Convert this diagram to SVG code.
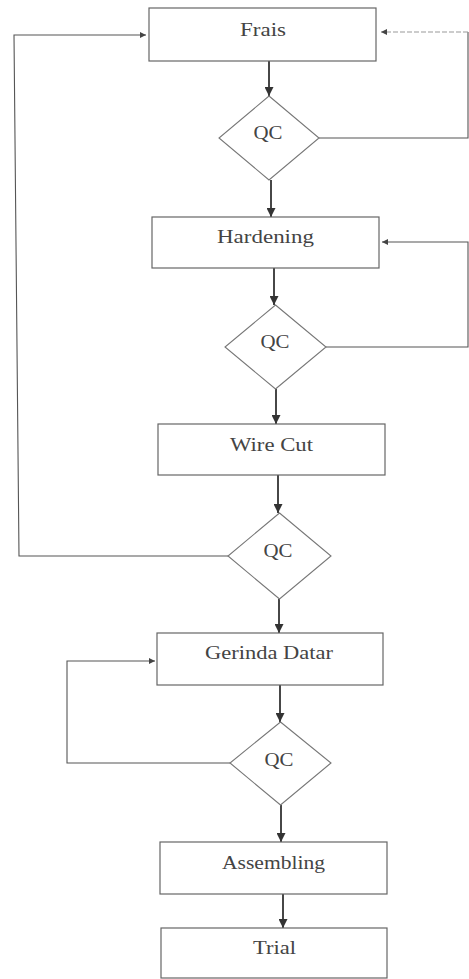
<svg xmlns="http://www.w3.org/2000/svg" width="469" height="979" viewBox="0 0 469 979">
<defs>
<style>
.box{fill:#fff;stroke:#666;stroke-width:1.2}
.dia{fill:#fff;stroke:#777;stroke-width:1.1}
.lbl{font-family:"Liberation Serif","Times New Roman",serif;font-size:18px;fill:#444;text-anchor:middle}
.flow{fill:none;stroke:#333;stroke-width:1.8}
.fb{fill:none;stroke:#555;stroke-width:1.1}
.fbl{fill:none;stroke:#999;stroke-width:1;stroke-dasharray:5 2}
</style>
<marker id="ah" viewBox="0 0 10 10" refX="10" refY="5" markerWidth="12" markerHeight="9" markerUnits="userSpaceOnUse" orient="auto">
<path d="M0,0 L10,5 L0,10 Z" fill="#333"/>
</marker>
<marker id="ahs" viewBox="0 0 10 10" refX="10" refY="5" markerWidth="9" markerHeight="6" markerUnits="userSpaceOnUse" orient="auto">
<path d="M0,0 L10,5 L0,10 Z" fill="#444"/>
</marker>
</defs>
<rect width="469" height="979" fill="#fff"/>
<g id="connectors">
<line class="flow" x1="269" y1="61" x2="269" y2="96" marker-end="url(#ah)"/>
<line class="flow" x1="271" y1="180" x2="271" y2="217" marker-end="url(#ah)"/>
<line class="flow" x1="274" y1="268" x2="274" y2="305" marker-end="url(#ah)"/>
<line class="flow" x1="276" y1="389" x2="276" y2="424" marker-end="url(#ah)"/>
<line class="flow" x1="278" y1="475" x2="278" y2="513" marker-end="url(#ah)"/>
<line class="flow" x1="279" y1="599" x2="279" y2="633" marker-end="url(#ah)"/>
<line class="flow" x1="280" y1="685" x2="280" y2="722" marker-end="url(#ah)"/>
<line class="flow" x1="281" y1="805" x2="281" y2="842" marker-end="url(#ah)"/>
<line class="flow" x1="283" y1="894" x2="283" y2="928" marker-end="url(#ah)"/>
<polyline class="fb" points="319,138 468,138 468,32"/>
<polyline class="fbl" points="468,32 381,32" marker-end="url(#ahs)"/>
<polyline class="fb" points="326,347 468,347 468,242 382,242" marker-end="url(#ahs)"/>
<polyline class="fb" points="228,556 19,556 14,35 146,35" marker-end="url(#ahs)"/>
<polyline class="fb" points="230,763 67,763 67,661 155,661" marker-end="url(#ahs)"/>
</g>
<g id="frais">
<rect class="box" x="149" y="8" width="227" height="53"/>
<text class="lbl" x="263" y="36" textLength="46" lengthAdjust="spacingAndGlyphs">Frais</text>
</g>
<g id="qc1">
<polygon class="dia" points="269,96 319,138 269,180 219,138"/>
<text class="lbl" x="268" y="139" textLength="29" lengthAdjust="spacingAndGlyphs">QC</text>
</g>
<g id="hardening">
<rect class="box" x="152" y="217" width="227" height="51"/>
<text class="lbl" x="265.5" y="243" textLength="97" lengthAdjust="spacingAndGlyphs">Hardening</text>
</g>
<g id="qc2">
<polygon class="dia" points="275.5,305 326,347 275.5,389 225,347"/>
<text class="lbl" x="275" y="348" textLength="29" lengthAdjust="spacingAndGlyphs">QC</text>
</g>
<g id="wirecut">
<rect class="box" x="158" y="424" width="227" height="51"/>
<text class="lbl" x="271.5" y="451" textLength="83" lengthAdjust="spacingAndGlyphs">Wire Cut</text>
</g>
<g id="qc3">
<polygon class="dia" points="279.5,513 331,556 279.5,599 228,556"/>
<text class="lbl" x="278" y="557" textLength="29" lengthAdjust="spacingAndGlyphs">QC</text>
</g>
<g id="gerinda">
<rect class="box" x="157" y="633" width="226" height="52"/>
<text class="lbl" x="269" y="659" textLength="128" lengthAdjust="spacingAndGlyphs">Gerinda Datar</text>
</g>
<g id="qc4">
<polygon class="dia" points="280.5,722 331,763 280.5,805 230,763"/>
<text class="lbl" x="279" y="766" textLength="29" lengthAdjust="spacingAndGlyphs">QC</text>
</g>
<g id="assembling">
<rect class="box" x="160" y="842" width="227" height="52"/>
<text class="lbl" x="273.5" y="869" textLength="103" lengthAdjust="spacingAndGlyphs">Assembling</text>
</g>
<g id="trial">
<rect class="box" x="161" y="928" width="226" height="50"/>
<text class="lbl" x="274.5" y="954" textLength="43" lengthAdjust="spacingAndGlyphs">Trial</text>
</g>
</svg>
